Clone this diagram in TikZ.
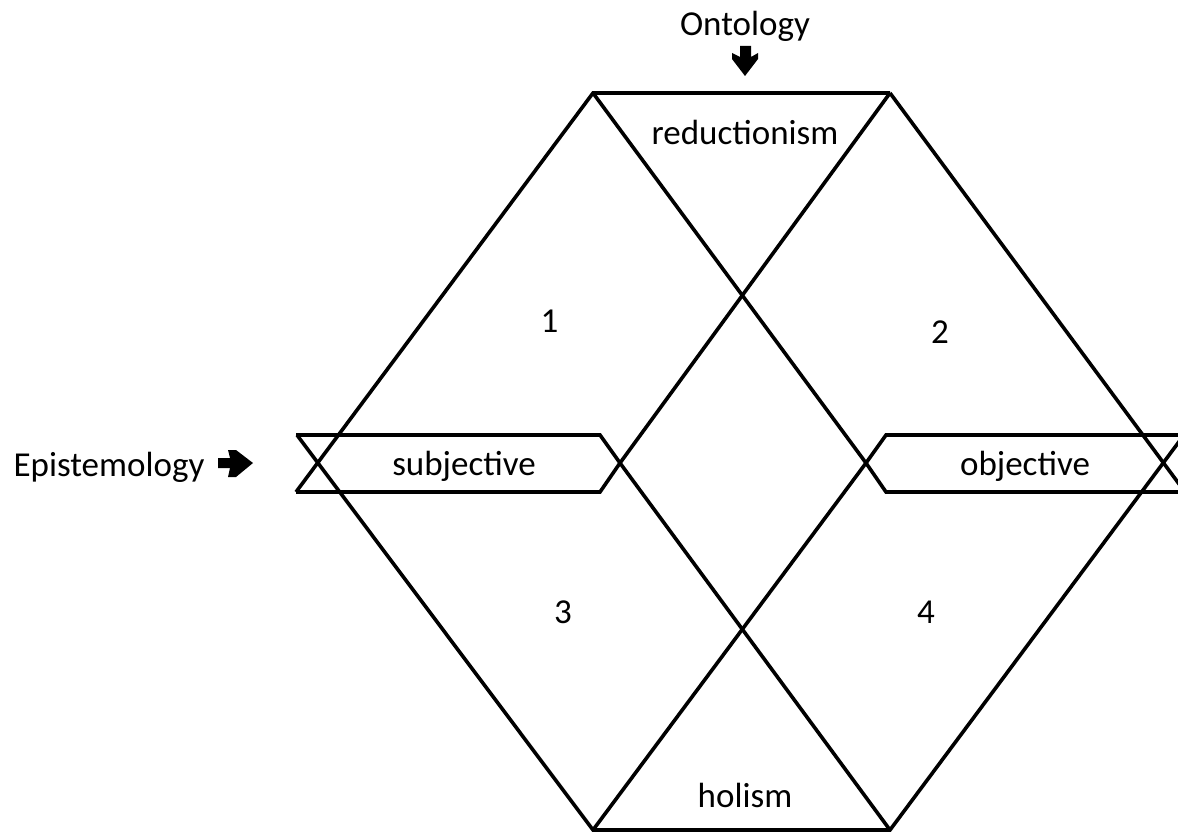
\documentclass[tikz,border=0pt]{standalone}
\usepackage{fontspec}
\setmainfont{Carlito}
\begin{document}
\begin{tikzpicture}[x=1pt,y=-1pt,
  edge/.style={line width=3.6pt,line join=miter,line cap=butt},
  lbl/.style={inner sep=0pt,anchor=base,font=\fontsize{35}{42}\selectfont},
  tip/.style={fill=black,draw=none}]
\clip (0,0) rectangle (1178,832);
\fill[white] (0,0) rectangle (1178,832);
% left diamond
\coordinate (T1) at (593,93);
\coordinate (LV1) at (318,463);
\coordinate (B1) at (593,830);
\coordinate (RV1) at (866,463);
% right diamond
\coordinate (T2) at (890,93);
\coordinate (LV2) at (620,463);
\coordinate (B2) at (890,830);
\coordinate (RV2) at (1163,463);
% extended outer ends
\coordinate (SL1) at (296,492);
\coordinate (SL2) at (297,435);
\coordinate (OR1) at (1185,492);
\coordinate (OR2) at (1184,435);
% diamonds
\draw[edge] (T2) -- (T1) -- (SL1);
\draw[edge] (SL2) -- (B1) -- (B2) -- (OR2);
\draw[edge] (T1) -- (RV1) -- (B1);
\draw[edge] (T2) -- (LV2) -- (B2);
\draw[edge] (T2) -- (OR1);
% subjective box
\coordinate (s1) at (296,435);
\coordinate (s2) at (600,435);
\coordinate (s3) at (600,492);
\draw[edge] (s1) -- (s2) -- (LV2) -- (s3) -- (SL1);
% objective box
\coordinate (o1) at (886,435);
\coordinate (o2) at (1190,435);
\coordinate (o3) at (886,492);
\coordinate (o4) at (1190,492);
\draw[edge] (o2) -- (o1) -- (RV1) -- (o3) -- (o4);
% labels
\node[lbl] (onto) at (745,36) {Ontology};
\node[lbl] (red) at (745,145) {reductionism};
\node[lbl] (hol) at (745,807) {holism};
\node[lbl] (subj) at (464,475) {subjective};
\node[lbl] (obj) at (1025,475) {objective};
\node[lbl] (epi) at (109,476) {Epistemology};
\node[lbl] (n1) at (549.5,332) {1};
\node[lbl] (n2) at (940,343) {2};
\node[lbl] (n3) at (563,623) {3};
\node[lbl] (n4) at (926,623) {4};
% block arrows
\fill[tip] (740,46) -- (751,46) -- (751,57) -- (758,53) -- (758,59) -- (745,76)
  -- (732,59) -- (732,53) -- (740,57) -- cycle;
\fill[tip] (218,458) -- (230,458) -- (228,450) -- (236,450) -- (253,463)
  -- (236,477) -- (228,477) -- (230,468) -- (218,468) -- cycle;
\end{tikzpicture}
\end{document}
